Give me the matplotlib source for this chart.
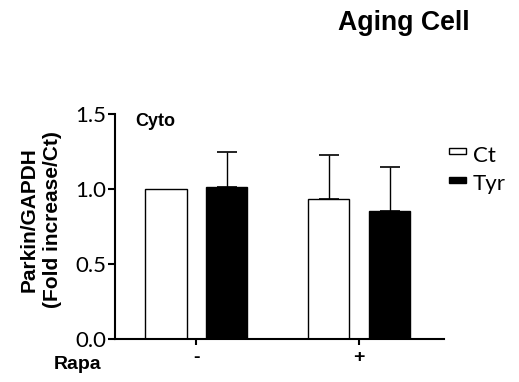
import numpy as np
import matplotlib.pyplot as plt
from matplotlib.patches import Rectangle
from matplotlib.transforms import ScaledTranslation

groups = ['-', '+']
ct_mean = [1.00, 0.938]
ct_err = [0.0, 0.293]
tyr_mean = [1.015, 0.858]
tyr_err = [0.232, 0.293]
yticks = [0.0, 0.5, 1.0, 1.5]
legend_labels = ['Ct', 'Tyr']
legend_colors = ['white', 'black']

plt.rcParams['font.family'] = ['Lato', 'DejaVu Sans']
BOLD = dict(family='Liberation Sans', fontweight='bold')

W, H = 519, 382
fig = plt.figure(figsize=(W / 100, H / 100), dpi=100)
ax = fig.add_axes([115 / W, 1 - 339.3 / H, (444 - 115) / W, (339.3 - 114.3) / H])

x = np.arange(len(groups))
off, w = 0.187, 0.253
ax.bar(x - off, ct_mean, w, color='white', edgecolor='black', linewidth=1.0, zorder=2)
ax.bar(x + off, tyr_mean, w, color='black', edgecolor='black', linewidth=1.0, zorder=2)

# upper error bars only, skip the normalised control with no spread
ekw = dict(fmt='none', ecolor='black', elinewidth=1.0, capsize=7.5, capthick=1.2, zorder=1)
for xs, means, errs in [(x - off, ct_mean, ct_err), (x + off, tyr_mean, tyr_err)]:
    for xi, m, e in zip(xs, means, errs):
        if e > 0:
            ax.errorbar(xi, m, yerr=[[0], [e]], **ekw)

ax.set_xlim(-0.5, 1.52)
ax.set_ylim(0, 1.5)
ax.set_yticks(yticks)
ax.set_yticklabels([f'{v:.1f}' for v in yticks], fontsize=16)
ax.set_xticks(x)
ax.set_xticklabels(groups, fontsize=14, **BOLD)
shift = ScaledTranslation(-3 / 100, 0, fig.dpi_scale_trans)
for lab in ax.get_xticklabels():
    lab.set_transform(lab.get_transform() + shift)
for s in ['top', 'right']:
    ax.spines[s].set_visible(False)
for s in ['left', 'bottom']:
    ax.spines[s].set_linewidth(1.5)
ax.tick_params(axis='y', width=1.5, length=5, pad=1)
ax.tick_params(axis='x', width=1.5, length=4, pad=3)

fig.text(40.5 / W, 1 - 219.5 / H, 'Parkin/GAPDH\n(Fold increase/Ct)', rotation=90,
         fontsize=15, ha='center', va='center', multialignment='center',
         linespacing=1.3, **BOLD)
fig.text(135 / W, 1 - 126 / H, 'Cyto', fontsize=13, va='baseline', **BOLD)
fig.text(101 / W, 1 - 369 / H, 'Rapa', fontsize=14, ha='right', va='baseline', **BOLD)

# legend: small flat swatches with labels
for i, (lab, col) in enumerate(zip(legend_labels, legend_colors)):
    top = 148.3 + i * 28.5
    fig.add_artist(Rectangle((449 / W, 1 - (top + 6) / H), 16.7 / W, 6 / H,
                             transform=fig.transFigure, facecolor=col,
                             edgecolor='black', linewidth=1.0))
    fig.text(473 / W, 1 - (161.7 + i * 28.5) / H, lab, fontsize=16, va='baseline')

fig.text(403.5 / W, 1 - 29.5 / H, 'Aging Cell', fontsize=19.2, fontweight='bold',
         family='Liberation Sans', ha='center', va='baseline')

fig.savefig('out.png', dpi=100)
